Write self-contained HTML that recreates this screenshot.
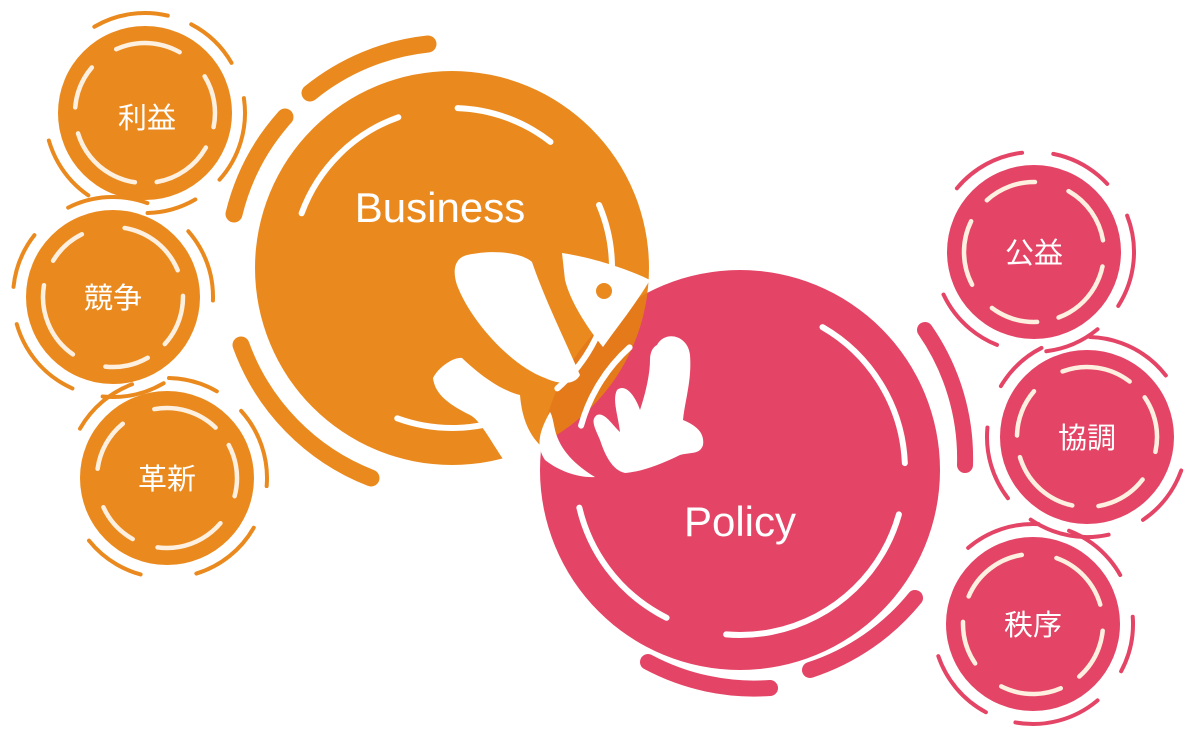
<!DOCTYPE html>
<html><head><meta charset="utf-8"><style>
html,body{margin:0;padding:0;background:#fff;width:1200px;height:738px;overflow:hidden}
svg{display:block}
text{font-family:"Liberation Sans","Noto Sans CJK JP",sans-serif;fill:#fff}
</style></head><body>
<svg width="1200" height="738" viewBox="0 0 1200 738" xmlns="http://www.w3.org/2000/svg">
<defs>
<clipPath id="bc"><circle cx="452" cy="268" r="197"/></clipPath>
</defs>
<g fill="none" stroke-linecap="round">
<g stroke="#EA8A1E" stroke-width="17">
<path d="M310 93 A225 225 0 0 1 428 44"/>
<path d="M234 214 A225 225 0 0 1 285 117"/>
<path d="M371 478 A225 225 0 0 1 241 345"/>
</g>
<g stroke="#E44465" stroke-width="16">
<path d="M925 330 A225 225 0 0 1 965 465"/>
<path d="M915 598 A225 225 0 0 1 810 670"/>
<path d="M648 662 A225 225 0 0 0 770 688"/>
</g>
</g>
<circle cx="740" cy="470" r="200" fill="#E44465"/>
<circle cx="452" cy="268" r="197" fill="#EA8A1E"/>
<circle cx="740" cy="470" r="200" fill="#E47A1A" clip-path="url(#bc)"/>
<g fill="none" stroke="#fff" stroke-width="6" stroke-linecap="round">
<circle cx="452" cy="268" r="160" pathLength="100" stroke-dasharray="14 6 10 8 20 5 12 25" transform="rotate(200 452 268)"/>
<circle cx="740" cy="470" r="165" pathLength="100" stroke-dasharray="16 5 22 6 14 8 9 20" transform="rotate(-60 740 470)"/>
</g>
<text x="440" y="222" font-size="42" text-anchor="middle">Business</text>
<text x="740" y="536" font-size="42" text-anchor="middle">Policy</text>
<g fill="#fff">
<path d="M467 255 C500 248 525 255 532 262 C545 300 565 340 580 375 C575 385 560 385 545 378 C510 365 470 320 457 285 C452 270 455 258 467 255Z"/>
<path d="M562 253 C595 258 630 270 650 280 C635 305 615 330 603 347 C585 325 570 300 565 280Z"/>
<path d="M433 378 C440 365 455 357 462 358 C480 375 500 390 520 395 C522 420 530 435 540 445 L505 462 C490 440 480 420 470 415 C450 405 435 395 433 378Z"/>
<path d="M550 412 C540 430 535 445 545 460 C560 472 580 478 595 477 C575 465 560 450 555 430 C553 420 552 415 550 412Z"/>
<path d="M657 345 C665 330 688 335 690 355 C692 380 685 400 683 420 C695 425 705 432 703 445 C700 455 690 452 680 455 C660 465 640 472 625 473 C612 470 605 455 600 440 C595 428 590 420 597 415 C605 412 612 425 620 432 C618 415 612 400 617 390 C625 383 635 395 640 410 C645 395 650 375 650 360 C650 352 653 347 657 345Z"/>
</g>
<circle cx="604" cy="291" r="8" fill="#EA8A1E"/>
<g stroke-linecap="round" fill="none">
<g>
<circle cx="145" cy="113" r="87" fill="#EA8A1E"/>
<circle cx="145" cy="113" r="70" stroke="#FDF0E0" stroke-width="4.5" pathLength="100" stroke-dasharray="14 5 18 6 10 7 15 8 12 5" transform="rotate(30 145 113)"/>
<circle cx="145" cy="113" r="100" stroke="#EA8A1E" stroke-width="4" pathLength="100" stroke-dasharray="12 4 9 6 14 5 8 10 11 21" transform="rotate(-120 145 113)"/>
</g>
<g>
<circle cx="113" cy="297" r="87" fill="#EA8A1E"/>
<circle cx="113" cy="297" r="70" stroke="#FDF0E0" stroke-width="4.5" pathLength="100" stroke-dasharray="16 6 12 5 10 8 18 6 9 10" transform="rotate(-80 113 297)"/>
<circle cx="113" cy="297" r="100" stroke="#EA8A1E" stroke-width="4" pathLength="100" stroke-dasharray="10 5 14 6 9 7 13 8 12 16" transform="rotate(60 113 297)"/>
</g>
<g>
<circle cx="167" cy="478" r="87" fill="#EA8A1E"/>
<circle cx="167" cy="478" r="70" stroke="#FDF0E0" stroke-width="4.5" pathLength="100" stroke-dasharray="15 5 12 7 16 6 10 9 12 8" transform="rotate(-100 167 478)"/>
<circle cx="167" cy="478" r="100" stroke="#EA8A1E" stroke-width="4" pathLength="100" stroke-dasharray="11 6 8 5 13 7 12 9 10 19" transform="rotate(-150 167 478)"/>
</g>
<g>
<circle cx="1034" cy="252" r="87" fill="#E44465"/>
<circle cx="1034" cy="252" r="70" stroke="#FDF0E0" stroke-width="4.5" pathLength="100" stroke-dasharray="14 6 16 5 11 7 15 6 12 8" transform="rotate(-60 1034 252)"/>
<circle cx="1034" cy="252" r="100" stroke="#E44465" stroke-width="4" pathLength="100" stroke-dasharray="12 5 10 6 15 5 9 8 12 18" transform="rotate(-140 1034 252)"/>
</g>
<g>
<circle cx="1087" cy="437" r="87" fill="#E44465"/>
<circle cx="1087" cy="437" r="70" stroke="#FDF0E0" stroke-width="4.5" pathLength="100" stroke-dasharray="16 5 13 7 12 6 17 5 11 8" transform="rotate(-110 1087 437)"/>
<circle cx="1087" cy="437" r="100" stroke="#E44465" stroke-width="4" pathLength="100" stroke-dasharray="10 6 13 5 12 7 9 8 14 16" transform="rotate(20 1087 437)"/>
</g>
<g>
<circle cx="1033" cy="624" r="87" fill="#E44465"/>
<circle cx="1033" cy="624" r="70" stroke="#FDF0E0" stroke-width="4.5" pathLength="100" stroke-dasharray="15 6 12 5 14 8 10 6 16 8" transform="rotate(-70 1033 624)"/>
<circle cx="1033" cy="624" r="100" stroke="#E44465" stroke-width="4" pathLength="100" stroke-dasharray="12 5 11 7 9 6 14 5 12 19" transform="rotate(-130 1033 624)"/>
</g>
</g>
<g font-size="29" text-anchor="middle">
<text x="147" y="128">利益</text>
<text x="113" y="308">競争</text>
<text x="167" y="489">革新</text>
<text x="1034" y="263">公益</text>
<text x="1087" y="448">協調</text>
<text x="1033" y="635">秩序</text>
</g>
</svg>
</body></html>
